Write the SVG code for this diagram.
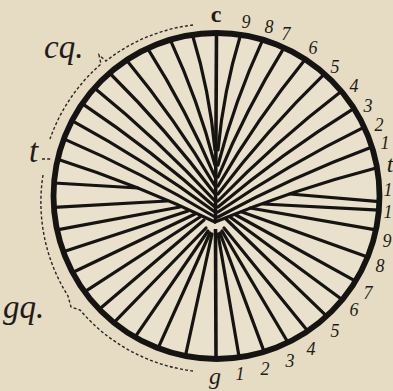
<svg xmlns="http://www.w3.org/2000/svg" width="393" height="391" viewBox="0 0 393 391">
<style>
.bg{fill:#e5dcc3}
.ln{fill:none;stroke:#161412;stroke-width:3.2;stroke-linecap:round}
.rim{fill:#e9e1cb;stroke:#161412;stroke-width:5.8}
.mid{fill:none;stroke:#161412;stroke-width:3.6}
.dot{fill:none;stroke:#2a2622;stroke-width:1.4;stroke-dasharray:3 2.2}
.num{font-family:"Liberation Serif",serif;font-style:italic;font-size:18px;fill:#1e1b18;text-anchor:middle}
.lab{font-family:"Liberation Serif",serif;font-style:italic;font-size:33px;fill:#1e1b18}
.bold{font-family:"Liberation Serif",serif;font-weight:bold;font-size:24px;fill:#1e1b18;text-anchor:middle}
</style>
<rect class="bg" x="0" y="0" width="393" height="391"/>
<g id="disc">
<circle class="rim" cx="216.5" cy="196" r="163"/>
</g>
<g id="connectors">
<path class="ln" d="M240.6,34.8 Q223.4,91.2 218,150"/>
<path class="ln" d="M262.8,39.7 Q234.8,100.3 218,165"/>
<path class="ln" d="M284.1,47.7 Q245.7,109.6 218,177"/>
<path class="ln" d="M305.3,59.3 Q256.7,119.2 218,186"/>
<path class="ln" d="M324.5,73.9 Q266.8,130 218,194"/>
<path class="ln" d="M341.4,91.2 Q275.7,141.6 218,201"/>
<path class="ln" d="M354,108.4 Q282.5,152.8 218,207"/>
<path class="ln" d="M364.2,127.1 Q288.1,164.4 218,212"/>
<path class="ln" d="M372,147 Q292.5,176.5 218,217"/>
<path class="ln" d="M377,167.7 Q294.1,189.2 215,222"/>
<path class="ln" d="M192.4,34.8 Q209.6,91.2 215,150"/>
<path class="ln" d="M170.2,39.7 Q198.2,100.3 215,165"/>
<path class="ln" d="M147.6,48.3 Q186.6,109.9 215,177"/>
<path class="ln" d="M126.5,60.1 Q175.7,119.6 215,186"/>
<path class="ln" d="M109.6,73 Q166.8,129.6 215,194"/>
<path class="ln" d="M94.4,88 Q158.8,140.1 215,201"/>
<path class="ln" d="M82.2,103.7 Q152.3,150.6 215,207"/>
<path class="ln" d="M71.9,120.7 Q146.7,161.3 215,212"/>
<path class="ln" d="M63.8,138.9 Q142.2,172.6 215,217"/>
<path class="ln" d="M57.7,159.3 Q138.6,185.1 215,222"/>
<path class="mid" d="M216.5,32 L215.5,222"/>
<path class="ln" d="M54.1,183 L138,188"/>
<path class="ln" d="M53.9,207.4 L167,201"/>
<path class="ln" d="M57.1,229.9 L180,207"/>
<path class="ln" d="M63.3,251.7 L188,211"/>
<path class="ln" d="M72.6,272.5 L195,214"/>
<path class="ln" d="M84.6,291.8 L200,217"/>
<path class="ln" d="M99.3,309.2 L204,220"/>
<path class="ln" d="M113.9,322.7 L206,228"/>
<path class="ln" d="M135,337.2 L208,231"/>
<path class="ln" d="M158.1,348.2 L210,233"/>
<path class="ln" d="M185.4,356 L212,234"/>
<path class="mid" d="M216,359 L215.5,229"/>
<path class="ln" d="M379.4,201.7 L290,194"/>
<path class="ln" d="M378.9,210.2 L263,204"/>
<path class="ln" d="M375.9,229.9 L250,208"/>
<path class="ln" d="M367.6,257.1 L242,212"/>
<path class="ln" d="M355.5,281.2 L235,214.5"/>
<path class="ln" d="M342.3,299.7 L230,217"/>
<path class="ln" d="M326.6,316.2 L226,219"/>
<path class="ln" d="M307.7,331.1 L224,228"/>
<path class="ln" d="M288,342.5 L222,231"/>
<path class="ln" d="M264.2,351.9 L220,233"/>
<path class="ln" d="M239.2,357.4 L218,234"/>
</g>
<g id="brackets">
<path class="dot" d="M193,25 A174,174 0 0 0 106,61 L99,55 L101,64 A176,176 0 0 0 50,139"/>
<path class="dot" d="M43,175 A176,176 0 0 0 68,296 L71,307 L80,310 A177,177 0 0 0 193,371"/>
<path class="dot" d="M42,159 L51,159"/>
</g>
<g id="labels">
<text class="bold" x="216" y="22">c</text>
<text class="num" x="246" y="28">9</text>
<text class="num" x="269" y="33">8</text>
<text class="num" x="286" y="40">7</text>
<text class="num" x="313" y="54">6</text>
<text class="num" x="335" y="73">5</text>
<text class="num" x="354" y="92">4</text>
<text class="num" x="368" y="112">3</text>
<text class="num" x="379" y="131">2</text>
<text class="num" x="385" y="149">1</text>
<text class="num" x="390" y="172" style="font-size:24px">t</text>
<text class="num" x="388" y="196">1</text>
<text class="num" x="388" y="218">1</text>
<text class="num" x="387" y="247">9</text>
<text class="num" x="380" y="272">8</text>
<text class="num" x="368" y="299">7</text>
<text class="num" x="354" y="316">6</text>
<text class="num" x="335" y="337">5</text>
<text class="num" x="311" y="355">4</text>
<text class="num" x="290" y="367">3</text>
<text class="num" x="265" y="375">2</text>
<text class="num" x="240" y="380">1</text>
<text class="bold" x="215" y="384" style="font-weight:normal;font-style:italic">g</text>
<text class="lab" x="44" y="58">cq.</text>
<text class="lab" x="29" y="162">t</text>
<text class="lab" x="3" y="318">gq.</text>
</g>
</svg>
